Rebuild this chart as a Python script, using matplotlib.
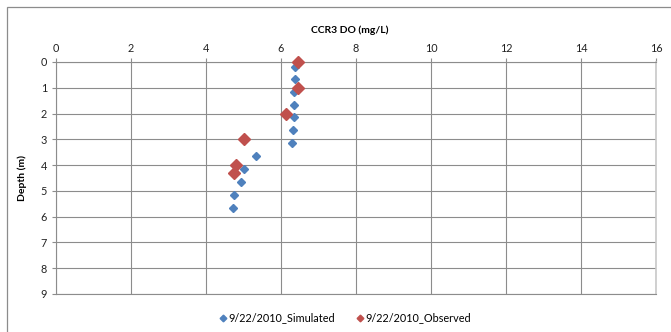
import numpy as np
import matplotlib.pyplot as plt
from matplotlib.patches import Rectangle

plt.rcParams['font.family'] = ['Lato', 'DejaVu Sans']

# Simulated profile
sim_do = [6.36, 6.36, 6.34, 6.34, 6.34, 6.33, 6.30, 5.32, 5.02, 4.92, 4.75, 4.71]
sim_depth = [0.2, 0.65, 1.15, 1.65, 2.15, 2.65, 3.15, 3.65, 4.15, 4.65, 5.15, 5.65]

# Observed profile
obs_do = [6.46, 6.44, 6.13, 5.02, 4.79, 4.75]
obs_depth = [0.0, 1.0, 2.0, 3.0, 4.0, 4.3]

xticks = np.arange(0, 17, 2)
yticks = np.arange(0, 10, 1)

fig = plt.figure(figsize=(6.71, 3.32), dpi=100)
# outer chart border
fig.patches.append(Rectangle((7/671, -0.1), 1.1, 1 - 7/332 + 0.1, transform=fig.transFigure,
                             fill=False, edgecolor='#8c8c8c', linewidth=0.9))
ax = fig.add_axes([56/671, 1 - 294/332, 600/671, 232/332])

ax.plot(sim_do, sim_depth, linestyle='none', marker='D', markersize=4.2,
        color='#4F81BD', label='9/22/2010_Simulated', zorder=3, clip_on=False)
ax.plot(obs_do, obs_depth, linestyle='none', marker='D', markersize=6.2,
        color='#C0504D', label='9/22/2010_Observed', zorder=4, clip_on=False)

ax.set_xlim(0, 16)
ax.set_ylim(9, 0)
ax.set_xticks(xticks)
ax.set_yticks(yticks)
ax.xaxis.tick_top()
ax.tick_params(axis='both', labelsize=7.8, colors='#8c8c8c', labelcolor='#222222', length=3, width=0.8)
ax.tick_params(axis='x', pad=3)
ax.grid(True, color='#8c8c8c', linewidth=0.8)
ax.set_axisbelow(True)
for s in ['top', 'bottom', 'left', 'right']:
    ax.spines[s].set_color('#8c8c8c')
    ax.spines[s].set_linewidth(0.8)
ax.spines['right'].set_color('#c8c8c8')
ax.spines['right'].set_linewidth(1.2)

ax.set_ylabel('Depth (m)', fontsize=7.5, fontweight='bold', labelpad=10)
fig.text(350/671, 1 - 30/332, 'CCR3 DO (mg/L)', ha='center', va='center', fontsize=7.5, fontweight='bold')

leg = fig.legend(loc='center', bbox_to_anchor=(345/671, 1 - 318/332), ncol=2, frameon=False,
                 fontsize=7.8, handlelength=0.6, handletextpad=0.2, columnspacing=2.0)
for h in leg.legend_handles:
    h.set_markersize(3.4)

fig.savefig('out.png', dpi=100)
